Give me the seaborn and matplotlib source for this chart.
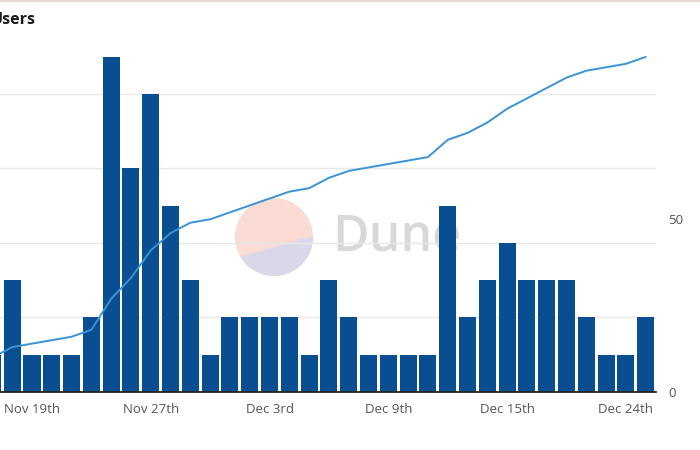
import numpy as np
import pandas as pd
import matplotlib
matplotlib.use("Agg")
import matplotlib.pyplot as plt
from matplotlib.patches import Circle, Polygon
import seaborn as sns

# daily bars (only days with data) and running total
days = ["Nov 17th", "Nov 18th", "Nov 19th", "Nov 20th", "Nov 21st", "Nov 23rd",
        "Nov 24th", "Nov 26th", "Nov 27th", "Nov 28th", "Nov 29th", "Nov 30th",
        "Dec 1st", "Dec 2nd", "Dec 3rd", "Dec 4th", "Dec 5th", "Dec 6th",
        "Dec 7th", "Dec 8th", "Dec 9th", "Dec 10th", "Dec 11th", "Dec 12th",
        "Dec 13th", "Dec 14th", "Dec 15th", "Dec 16th", "Dec 17th", "Dec 18th",
        "Dec 20th", "Dec 22nd", "Dec 24th", "Dec 25th"]
new_users = [1, 3, 1, 1, 1, 2, 9, 6, 8, 5, 3, 1, 2, 2, 2, 2, 1, 3,
             2, 1, 1, 1, 1, 5, 2, 3, 4, 3, 3, 3, 2, 1, 1, 2]
total_users = [10, 13, 14, 15, 16, 18, 27, 33, 41, 46, 49, 50, 52, 54, 56, 58, 59, 62,
               64, 65, 66, 67, 68, 73, 75, 78, 82, 85, 88, 91, 93, 94, 95, 97]
tick_days = ["Nov 19th", "Nov 27th", "Dec 3rd", "Dec 9th", "Dec 15th", "Dec 24th"]
right_ticks = [0, 50]

BAR = "#0a4e92"
LINE = "#3a93d5"
W, H = 700, 450


def add_watermark(fig):
    # Dune logo behind the plot
    r = 39
    circ = Circle((274, H - 237), r, transform=None, facecolor="#fadcd5",
                  edgecolor="none", zorder=-2)
    circ_t = Circle((274, H - 237), r, transform=None, facecolor="none", edgecolor="none")
    fig.patches.append(circ)
    fig.patches.append(circ_t)
    low = Polygon([(230, H - 260), (320, H - 234), (320, H - 290), (230, H - 290)],
                  closed=True, transform=None, facecolor="#d8d8ea", edgecolor="none", zorder=-1)
    low.set_clip_path(circ_t)
    fig.patches.append(low)
    fig.text(332 / W, 1 - 238 / H, "Dune", fontsize=36, fontweight="semibold",
             color="#d8d8d8", va="center", ha="left", zorder=-1)


def plot_users():
    sns.set_style("white")
    plt.rcParams["font.family"] = ["Open Sans", "DejaVu Sans"]

    df = pd.DataFrame({"day": days, "new_users": new_users, "total_users": total_users})
    df["pos"] = np.arange(len(df))

    fig = plt.figure(figsize=(W / 100, H / 100), dpi=100)
    ax = fig.add_axes([-17.5 / W, 58 / H, 673.5 / W, 342 / H])
    ax.patch.set_visible(False)

    sns.barplot(data=df, x="day", y="new_users", order=days, color=BAR, saturation=1,
                width=0.86, linewidth=0, ax=ax)
    ax.set_xlim(-0.5, len(days) - 0.48)
    ax.set_ylim(0, 9.18)
    ax.set_yticks([0, 2, 4, 6, 8])
    ax.yaxis.grid(True, color="#e8e8e8", linewidth=1)
    ax.set_axisbelow(True)
    ax.set_xticks([days.index(d) for d in tick_days])
    ax.set_xticklabels(tick_days)
    ax.tick_params(axis="x", length=0, pad=8, labelsize=9.5, labelcolor="#555555")
    # left axis labels lie outside the cropped view
    ax.tick_params(axis="y", length=0, labelleft=False)
    ax.set_xlabel("")
    ax.set_ylabel("")
    for s in ["top", "left", "right"]:
        ax.spines[s].set_visible(False)
    ax.spines["bottom"].set_color("#222222")
    ax.spines["bottom"].set_linewidth(1.3)
    ax.spines["bottom"].set_zorder(5)

    ax2 = ax.twinx()
    sns.lineplot(data=df, x="pos", y="total_users", color=LINE, linewidth=1.4, ax=ax2)
    ax2.set_ylim(0, 99)
    ax2.set_yticks(right_ticks)
    ax2.tick_params(axis="y", length=0, pad=9, labelsize=9.5, labelcolor="#555555")
    ax2.set_ylabel("")
    ax2.grid(False)
    for s in ax2.spines.values():
        s.set_visible(False)

    add_watermark(fig)
    fig.text(-9 / W, 1 - 20 / H, "Users", fontsize=11.5, fontweight="bold",
             color="#1a1a1a", va="center", ha="left")
    fig.add_artist(plt.Line2D([0, 1], [1 - 0.5 / H, 1 - 0.5 / H], color="#ead9d0",
                              linewidth=1.5, transform=fig.transFigure))

    fig.savefig("out.png", dpi=100)


if __name__ == "__main__":
    plot_users()
